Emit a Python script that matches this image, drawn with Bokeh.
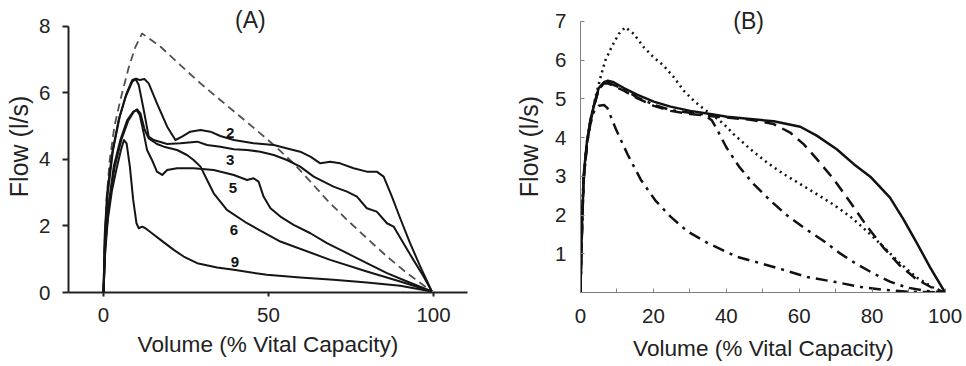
from bokeh.plotting import figure
from bokeh.layouts import row
from bokeh.models import FixedTicker, Range1d
from bokeh.core.properties import value
from bokeh.embed import file_html
from bokeh.resources import INLINE

FONT = "Liberation Sans"
TXT = "#222222"

# ---------------- Panel A data ----------------
a_pred_x = [0, 0.3, 0.9, 1.9, 3.3, 5.1, 7.7, 9.7, 11.7, 17.3, 23.3, 29.4, 35.4, 41.5, 47.5, 51.6, 57.6, 62.7, 67.7, 73.8, 79.8, 85.9, 92.0, 99.5]
a_pred_y = [0, 1.28, 2.78, 3.98, 4.98, 5.78, 6.78, 7.38, 7.78, 7.38, 6.83, 6.28, 5.78, 5.28, 4.78, 4.43, 3.88, 3.33, 2.78, 2.18, 1.63, 1.08, 0.58, 0.03]

a2_x = [0, 0.4, 1.1, 2.6, 4.6, 6.7, 8.7, 10.0, 11.0, 12.4, 13.7, 16.2, 19.3, 21.8, 23.8, 26.3, 29.4, 32.4, 35.4, 39.5, 45.5, 51.6, 56.6, 59.6, 62.7, 65.7, 68.7, 71.7, 75.8, 79.8, 82.8, 84.9, 87.4, 89.9, 92.9, 96.0, 99.5]
a2_y = [0, 1.78, 2.98, 4.18, 5.18, 5.88, 6.33, 6.42, 6.38, 6.41, 6.28, 5.68, 4.98, 4.58, 4.68, 4.83, 4.88, 4.83, 4.70, 4.58, 4.48, 4.43, 4.30, 4.23, 4.08, 3.88, 3.93, 3.88, 3.73, 3.63, 3.63, 3.48, 2.88, 2.23, 1.48, 0.78, 0.03]

a3_x = [0, 0.4, 1.3, 2.9, 4.9, 7.0, 8.7, 9.7, 10.7, 12.2, 13.7, 15.2, 19.3, 23.3, 28.4, 31.4, 35.4, 39.5, 43.5, 47.5, 51.6, 55.6, 59.6, 63.7, 66.7, 69.7, 73.8, 76.8, 79.8, 82.8, 85.9, 87.9, 90.9, 93.9, 97.0, 99.5]
a3_y = [0, 1.58, 2.98, 4.28, 5.28, 5.98, 6.38, 6.42, 6.23, 5.48, 4.68, 4.58, 4.46, 4.48, 4.53, 4.43, 4.38, 4.30, 4.28, 4.23, 4.13, 3.98, 3.78, 3.48, 3.33, 3.18, 3.03, 2.88, 2.53, 2.43, 2.08, 1.98, 1.48, 0.98, 0.48, 0.03]

a5_x = [0, 0.5, 1.5, 3.1, 5.1, 7.2, 9.0, 10.0, 11.0, 12.2, 13.2, 14.7, 16.2, 17.8, 19.3, 22.3, 27.3, 33.4, 39.5, 43.5, 45.5, 47.0, 48.5, 50.6, 53.6, 57.6, 62.7, 67.7, 73.8, 79.8, 85.9, 92.0, 99.5]
a5_y = [0, 1.38, 2.58, 3.78, 4.58, 5.18, 5.43, 5.48, 5.33, 4.78, 4.28, 3.98, 3.63, 3.53, 3.68, 3.73, 3.73, 3.68, 3.53, 3.38, 3.43, 3.33, 2.88, 2.53, 2.28, 2.03, 1.78, 1.48, 1.18, 0.88, 0.58, 0.33, 0.03]

a6_x = [0, 0.6, 1.7, 3.4, 5.4, 7.5, 9.2, 10.2, 11.2, 12.5, 13.7, 16.2, 18.3, 22.3, 25.3, 27.3, 29.4, 31.4, 33.4, 37.4, 43.5, 53.6, 68.7, 79.8, 89.9, 99.5]
a6_y = [0, 1.48, 2.68, 3.78, 4.58, 5.16, 5.43, 5.50, 5.38, 4.88, 4.63, 4.46, 4.38, 4.28, 4.13, 3.98, 3.78, 3.38, 2.98, 2.48, 2.08, 1.53, 0.98, 0.63, 0.33, 0.03]

a9_x = [0, 0.5, 1.3, 2.6, 4.1, 5.3, 6.2, 7.0, 8.0, 9.0, 10.0, 10.7, 11.7, 12.7, 14.7, 17.3, 21.3, 24.3, 28.4, 34.4, 39.5, 49.5, 59.6, 69.7, 79.8, 89.9, 99.5]
a9_y = [0, 1.18, 2.18, 3.08, 3.78, 4.28, 4.58, 4.48, 3.78, 2.78, 2.08, 1.93, 1.98, 1.93, 1.78, 1.58, 1.28, 1.08, 0.88, 0.75, 0.68, 0.53, 0.45, 0.38, 0.30, 0.20, 0.03]

a_lab_text = ["2", "3", "5", "6", "9"]
a_lab_x = [38.4, 38.4, 39.2, 39.5, 39.8]
a_lab_y = [4.79, 3.98, 3.13, 1.88, 0.93]

a_xticks = [0, 50, 100]
a_yticks = [0, 2, 4, 6, 8]

# ---------------- Panel B data ----------------
b_solid_x = [0, 0.2, 0.5, 0.9, 1.8, 2.7, 3.8, 5.0, 6.4, 7.5, 9.1, 11.9, 15.5, 20.1, 24.7, 30.1, 35.6, 40.2, 46.6, 53.0, 60.3, 64.8, 70.3, 74.9, 79.5, 84.9, 88.6, 92.2, 95.9, 100]
b_solid_y = [0, 0.99, 2.02, 3.06, 3.92, 4.44, 4.87, 5.28, 5.43, 5.47, 5.43, 5.28, 5.11, 4.93, 4.80, 4.69, 4.61, 4.54, 4.48, 4.42, 4.28, 4.05, 3.70, 3.32, 2.99, 2.45, 1.89, 1.29, 0.65, 0]

b_dash_x = [0, 0.2, 0.5, 0.9, 1.8, 2.7, 3.8, 5.0, 6.4, 7.5, 11.9, 15.5, 20.1, 24.7, 30.1, 37.4, 46.6, 53.0, 57.5, 61.2, 64.8, 69.4, 74.0, 78.5, 83.1, 87.7, 92.2, 96.7, 100]
b_dash_y = [0, 0.9, 1.9, 2.95, 3.85, 4.4, 4.85, 5.25, 5.40, 5.40, 5.21, 5.02, 4.82, 4.69, 4.61, 4.54, 4.46, 4.35, 4.13, 3.83, 3.45, 2.93, 2.33, 1.72, 1.16, 0.69, 0.34, 0.11, 0]

b_dot_x = [0, 0.3, 0.7, 1.6, 2.7, 4.1, 5.5, 6.8, 8.7, 10.5, 12.3, 14.6, 17.4, 20.1, 22.8, 25.6, 28.3, 31.1, 33.8, 36.5, 39.3, 42.0, 46.6, 51.1, 55.7, 60.3, 64.8, 69.4, 74.0, 78.5, 83.1, 87.7, 92.2, 96.7, 100]
b_dot_y = [0, 1.51, 2.71, 3.75, 4.44, 5.04, 5.56, 5.99, 6.37, 6.68, 6.85, 6.68, 6.33, 6.07, 5.86, 5.56, 5.21, 4.95, 4.74, 4.56, 4.35, 4.09, 3.70, 3.36, 3.06, 2.80, 2.54, 2.27, 1.96, 1.59, 1.18, 0.75, 0.39, 0.13, 0]

b_dd1_x = [0, 0.2, 0.5, 0.9, 1.8, 2.7, 3.8, 5.0, 6.4, 7.5, 11.9, 15.5, 20.1, 24.7, 30.1, 33.8, 36.0, 37.8, 40.0, 43.5, 47.5, 52.0, 56.8, 61.6, 66.7, 71.2, 75.8, 80.4, 84.9, 89.5, 94.9, 100]
b_dd1_y = [0, 0.95, 1.95, 3.0, 3.88, 4.42, 4.85, 5.25, 5.40, 5.42, 5.25, 5.04, 4.85, 4.71, 4.64, 4.60, 4.45, 4.15, 3.75, 3.25, 2.80, 2.38, 1.98, 1.65, 1.33, 1.01, 0.73, 0.49, 0.28, 0.13, 0.04, 0]

b_dd2_x = [0, 0.2, 0.5, 0.9, 1.8, 2.7, 3.8, 5.0, 6.5, 7.4, 9.7, 12.9, 16.5, 20.5, 24.7, 29.3, 34.8, 43.0, 53.0, 62.2, 70.0, 77.0, 83.0, 90.0, 100]
b_dd2_y = [0, 0.9, 1.9, 2.95, 3.85, 4.35, 4.70, 4.82, 4.84, 4.76, 4.22, 3.57, 2.92, 2.38, 1.96, 1.58, 1.28, 0.92, 0.66, 0.40, 0.27, 0.14, 0.07, 0.02, 0]

b_xticks = [0, 20, 40, 60, 80, 100]
b_xminor = [10, 30, 50, 70, 90]
b_yticks = [1, 2, 3, 4, 5, 6, 7]


def style_common(p):
    p.grid.visible = False
    p.outline_line_color = None
    p.background_fill_color = "white"
    p.border_fill_color = "white"
    for ax in p.axis:
        ax.major_label_text_font = FONT
        ax.major_label_text_font_size = "20.5px"
        ax.major_label_text_color = TXT
        ax.axis_label_text_font = FONT
        ax.axis_label_text_font_style = "normal"
        ax.axis_label_text_color = TXT
    p.xaxis.axis_label_text_font_size = "22.6px"
    p.yaxis.axis_label_text_font_size = "25px"


# ---------------- Panel A ----------------
pA = figure(width=483, height=366, output_backend="svg", toolbar_location=None,
            title=None, x_range=Range1d(-10.6, 110.3), y_range=Range1d(0, 8.77),
            min_border_left=68, min_border_right=16, min_border_top=0, min_border_bottom=73)
style_common(pA)
pA.xaxis.axis_label = "Volume (% Vital Capacity)"
pA.yaxis.axis_label = "Flow (l/s)"
pA.xaxis.ticker = FixedTicker(ticks=a_xticks)
pA.yaxis.ticker = FixedTicker(ticks=a_yticks)
pA.yaxis.bounds = (0, 8)
for ax in pA.axis:
    ax.axis_line_width = 2
    ax.axis_line_color = "#222222"
    ax.major_tick_line_width = 2
    ax.major_tick_line_color = "#222222"
    ax.major_tick_in = 0
    ax.minor_tick_line_color = None
pA.yaxis.major_tick_out = 6
pA.yaxis.major_label_standoff = 12
pA.yaxis.axis_label_standoff = 3
pA.xaxis.major_tick_out = 4
pA.xaxis.major_label_standoff = 11
pA.xaxis.axis_label_standoff = 7

pA.line(a_pred_x, a_pred_y, line_color="#505050", line_width=1.8, line_dash="8 5")
for xs, ys in [(a2_x, a2_y), (a3_x, a3_y), (a5_x, a5_y), (a6_x, a6_y), (a9_x, a9_y)]:
    pA.line(xs, ys, line_color="#151515", line_width=2, line_join="round")
pA.text(x=a_lab_x, y=a_lab_y, text=a_lab_text, text_font=value(FONT), text_font_size="15px",
        text_font_style="bold", text_align="center", text_baseline="middle", text_color="#111111")
pA.text(x=[44.5], y=[8.17], text=["(A)"], text_font=value(FONT), text_font_size="23px",
        text_align="center", text_baseline="middle", text_color=TXT)

# ---------------- Panel B ----------------
pB = figure(width=483, height=366, output_backend="svg", toolbar_location=None,
            title=None, x_range=Range1d(0, 100.4), y_range=Range1d(0, 7.54),
            min_border_left=97, min_border_right=20, min_border_top=0, min_border_bottom=74)
style_common(pB)
pB.xaxis.axis_label = "Volume (% Vital Capacity)"
pB.yaxis.axis_label = "Flow (l/s)"
pB.xaxis.ticker = FixedTicker(ticks=b_xticks, minor_ticks=b_xminor)
pB.yaxis.ticker = FixedTicker(ticks=b_yticks)
pB.yaxis.bounds = (0, 7)
pB.xaxis.bounds = (0, 100)
for ax in pB.axis:
    ax.axis_line_width = 1
    ax.axis_line_color = "#808080"
    ax.major_tick_line_color = "#808080"
    ax.major_tick_line_width = 1
    ax.major_tick_in = 4
    ax.major_tick_out = 0
pB.yaxis.major_label_standoff = 14
pB.xaxis.major_label_standoff = 16
pB.yaxis.minor_tick_line_color = None
pB.xaxis.minor_tick_line_color = "#808080"
pB.xaxis.minor_tick_in = 4
pB.xaxis.minor_tick_out = 0
pB.yaxis.axis_label_standoff = 9
pB.xaxis.axis_label_standoff = 10

BLK = "#111111"
pB.line(b_dd2_x, b_dd2_y, line_color=BLK, line_width=2.5, line_dash="12 6 3 6")
pB.line(b_dd1_x, b_dd1_y, line_color=BLK, line_width=2.5, line_dash="12 6 3 6")
pB.line(b_dot_x, b_dot_y, line_color=BLK, line_width=2.5, line_dash="2 4")
pB.line(b_dash_x, b_dash_y, line_color=BLK, line_width=2.5, line_dash="12 7")
pB.line(b_solid_x, b_solid_y, line_color=BLK, line_width=2.5, line_join="round")
pB.text(x=[46.1], y=[7.02], text=["(B)"], text_font=value(FONT), text_font_size="23px",
        text_align="center", text_baseline="middle", text_color=TXT)

layout = row(pA, pB)
open("out.html", "w").write(file_html(layout, INLINE))
